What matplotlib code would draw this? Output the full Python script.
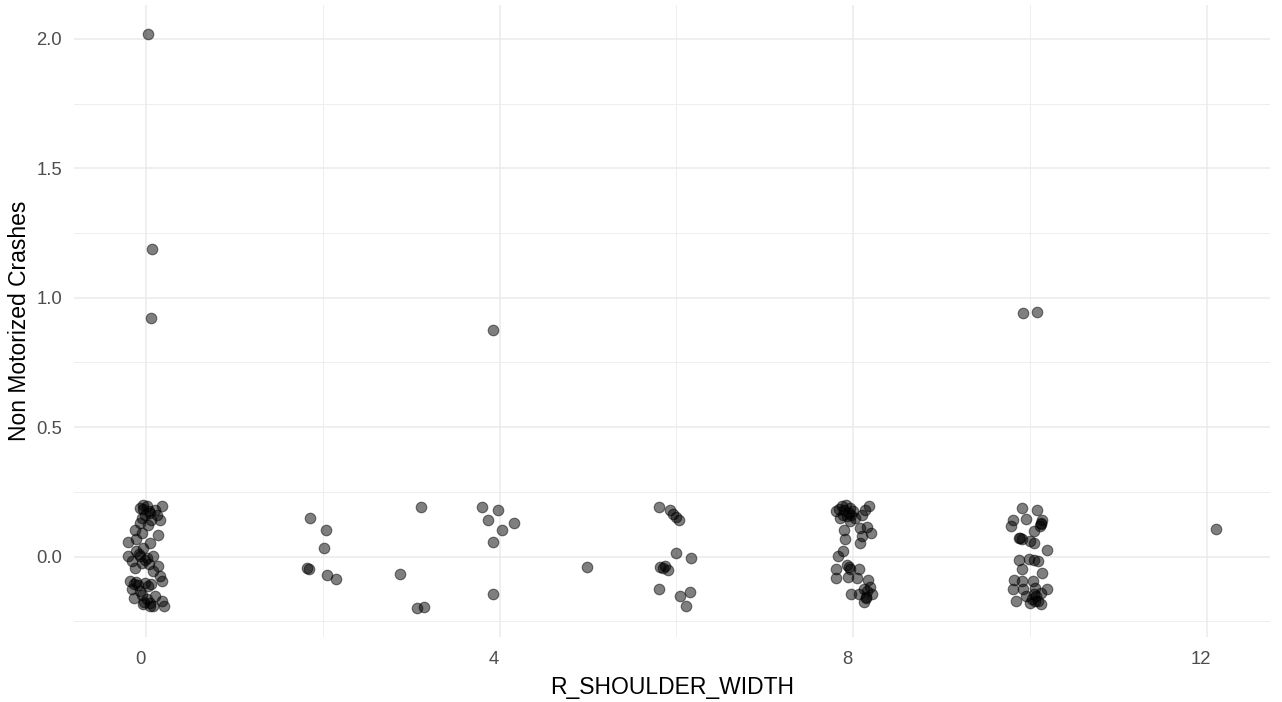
import matplotlib
matplotlib.use("Agg")
import matplotlib.pyplot as plt
import matplotlib.transforms as mtransforms
import numpy as np

plt.rcParams['font.family'] = ['Liberation Sans', 'DejaVu Sans']

# Jittered points (R_SHOULDER_WIDTH, Non Motorized Crashes), grouped by shoulder width
x_w0 = [-0.04, 0.01, -0.07, 0.18, 0.10, 0.05, -0.01, 0.12, 0.06, 0.16, -0.07, -0.12, -0.05, 0.14, -0.11,
        -0.20, 0.05, -0.03, -0.11, -0.20, -0.07, 0.01, 0.08, -0.16, -0.05, 0.14, -0.12, 0.08, 0.16, -0.18,
        -0.11, -0.01, 0.06, 0.18, -0.16, -0.07, -0.14, -0.05, 0.01, -0.03, 0.05, 0.08, 0.18, 0.20, 0.10,
        -0.03, 0.03, -0.05, 0.02, -0.08, -0.01, 0.03, -0.14, -0.09, 0.02, -0.02, 0.04,
        0.02, 0.07, 0.06]
y_w0 = [0.198, 0.194, 0.188, 0.194, 0.181, 0.169, 0.162, 0.162, 0.143, 0.143, 0.130, 0.104, 0.092, 0.085, 0.068,
        0.055, 0.053, 0.034, 0.020, 0.001, 0.001, -0.005, 0.001, -0.018, -0.024, -0.035, -0.044, -0.057, -0.076, -0.095,
        -0.099, -0.102, -0.108, -0.095, -0.127, -0.134, -0.160, -0.147, -0.166, -0.185, -0.179, -0.192, -0.172, -0.192, -0.153,
        0.185, 0.175, 0.150, 0.120, 0.010, -0.015, -0.030, -0.105, -0.110, -0.115, -0.175, -0.190,
        2.02, 1.19, 0.92]

x_w2 = [1.86, 2.04, 2.01, 1.82, 1.84, 2.05, 2.15]
y_w2 = [0.147, 0.104, 0.031, -0.043, -0.047, -0.071, -0.085]

x_w3 = [3.11, 2.87, 3.07, 3.14]
y_w3 = [0.190, -0.066, -0.200, -0.194]

x_w4 = [3.80, 3.98, 3.87, 4.16, 4.03, 3.93, 3.93, 3.93]
y_w4 = [0.192, 0.178, 0.140, 0.130, 0.104, 0.057, -0.146, 0.876]

x_w5 = [4.99]
y_w5 = [-0.042]

x_w6 = [5.80, 5.93, 5.96, 5.99, 6.03, 6.00, 6.17, 5.81, 5.87, 5.90, 5.85, 5.80, 6.04, 6.15, 6.11]
y_w6 = [0.192, 0.178, 0.166, 0.153, 0.140, 0.014, -0.005, -0.040, -0.035, -0.054, -0.045, -0.125, -0.151, -0.138, -0.193]

x_w8 = [7.81, 7.87, 7.92, 7.96, 8.00, 7.85, 7.93, 8.02, 7.96, 8.10, 8.18, 8.13, 7.90, 7.91, 8.08, 8.16, 8.20,
        8.10, 8.08, 7.88, 7.83, 7.81, 7.93, 7.96, 7.94, 8.06, 8.04, 8.17, 8.19, 7.97, 8.12, 8.15, 8.21, 8.12,
        7.81, 8.06, 7.84, 7.90, 7.95, 7.88, 7.98, 8.14, 8.16, 7.95]
y_w8 = [0.175, 0.194, 0.198, 0.188, 0.175, 0.149, 0.158, 0.149, 0.136, 0.162, 0.197, 0.179, 0.104, 0.066, 0.111, 0.115, 0.089,
        0.078, 0.053, 0.020, 0.001, -0.050, -0.031, -0.050, -0.079, -0.050, -0.082, -0.089, -0.117, -0.143, -0.127, -0.156, -0.143, -0.176,
        -0.082, -0.143, 0.185, 0.180, 0.170, 0.160, 0.160, -0.160, -0.135, -0.040]

x_w10 = [9.91, 10.08, 9.81, 9.95, 9.79, 10.13, 10.11, 10.04, 9.87, 9.91, 10.00, 10.05, 10.19, 9.87, 9.99, 10.04, 10.09,
         9.91, 10.14, 9.82, 9.91, 10.03, 9.81, 9.92, 10.06, 10.19, 9.96, 10.07, 10.13, 9.84, 10.00, 10.12, 10.06,
         10.12, 10.14, 10.02, 10.09, 10.05, 9.89,
         9.92, 10.08]
y_w10 = [0.188, 0.179, 0.140, 0.146, 0.117, 0.130, 0.117, 0.098, 0.072, 0.066, 0.059, 0.053, 0.027, -0.014, -0.009, -0.014, -0.018,
         -0.050, -0.063, -0.089, -0.095, -0.095, -0.127, -0.125, -0.121, -0.127, -0.151, -0.151, -0.140, -0.172, -0.179, -0.185, -0.172,
         0.125, 0.140, -0.165, -0.170, -0.145, 0.070,
         0.940, 0.944]

x_w12 = [12.10]
y_w12 = [0.108]

x_all = np.array(x_w0 + x_w2 + x_w3 + x_w4 + x_w5 + x_w6 + x_w8 + x_w10 + x_w12)
y_all = np.array(y_w0 + y_w2 + y_w3 + y_w4 + y_w5 + y_w6 + y_w8 + y_w10 + y_w12)

x_major = [0, 4, 8, 12]
x_minor = [2, 6, 10]
y_major = [0.0, 0.5, 1.0, 1.5, 2.0]
y_minor = [-0.25, 0.25, 0.75, 1.25, 1.75]

W, H = 1282, 702
fig = plt.figure(figsize=(W / 100, H / 100), dpi=100)
ax = fig.add_axes([74 / W, 1 - 637 / H, (1270 - 74) / W, (637 - 5) / H])

grid_col = '#EBEBEB'
for v in x_major:
    ax.axvline(v, color=grid_col, lw=1.1, zorder=0)
for v in x_minor:
    ax.axvline(v, color=grid_col, lw=0.6, zorder=0)
for v in y_major:
    ax.axhline(v, color=grid_col, lw=1.1, zorder=0)
for v in y_minor:
    ax.axhline(v, color=grid_col, lw=0.6, zorder=0)

ax.scatter(x_all, y_all, s=58, facecolor='black', edgecolor='black', linewidths=0.8, alpha=0.5, zorder=3)

xr = x_all.max() - x_all.min()
yr = y_all.max() - y_all.min()
ax.set_xlim(x_all.min() - 0.05 * xr, x_all.max() + 0.05 * xr)
ax.set_ylim(y_all.min() - 0.05 * yr, y_all.max() + 0.05 * yr)

ax.set_xticks(x_major)
ax.set_xticklabels([str(v) for v in x_major])
ax.set_yticks(y_major)
ax.set_yticklabels([f"{v:.1f}" for v in y_major])
ax.tick_params(axis='both', length=0, labelsize=13.3, labelcolor='#4D4D4D')
ax.tick_params(axis='y', pad=8.5)
ax.tick_params(axis='x', pad=10)

offset = mtransforms.ScaledTranslation(-6 / 100, 0, fig.dpi_scale_trans)
for lbl in ax.get_xticklabels():
    lbl.set_transform(lbl.get_transform() + offset)

for s in ax.spines.values():
    s.set_visible(False)

ax.set_xlabel('R_SHOULDER_WIDTH', fontsize=16.5, color='black', labelpad=6)
ax.set_ylabel('Non Motorized Crashes', fontsize=16.5, color='black', labelpad=4)

fig.savefig('out.png', dpi=100, facecolor='white')
